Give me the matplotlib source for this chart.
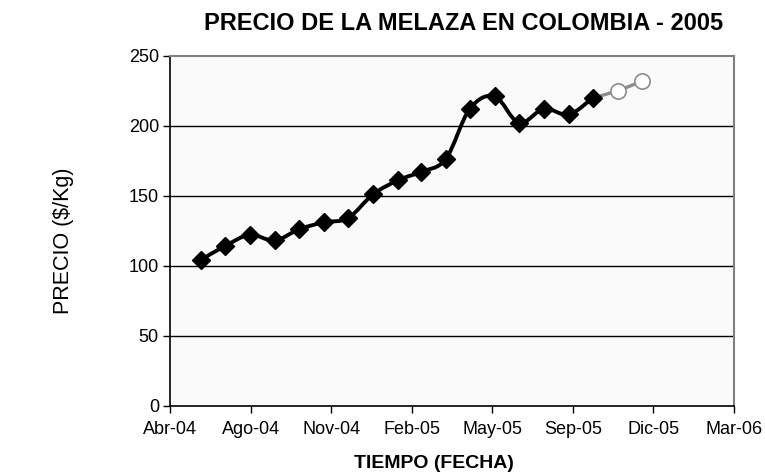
import datetime as dt

import matplotlib
matplotlib.use("Agg")
import matplotlib.dates as mdates
import matplotlib.pyplot as plt
from matplotlib.path import Path
from matplotlib.patches import PathPatch
import numpy as np

# monthly prices, Jun-2004 .. Oct-2005
months = ["2004-06", "2004-07", "2004-08", "2004-09", "2004-10", "2004-11",
          "2004-12", "2005-01", "2005-02", "2005-03", "2005-04", "2005-05",
          "2005-06", "2005-07", "2005-08", "2005-09", "2005-10"]
price = [104, 114, 122, 118, 126, 131, 134, 151, 161, 167, 176, 212,
         221, 202, 212, 208, 220]

# projected values (open circles)
proj_months = ["2005-10", "2005-11", "2005-12"]
proj_price = [220, 225, 232]

# axis tick dates (100 day step) and their labels
tick_dates = ["2004-04-24", "2004-08-02", "2004-11-10", "2005-02-18",
              "2005-05-29", "2005-09-06", "2005-12-15", "2006-03-25"]
tick_labels = ["Abr-04", "Ago-04", "Nov-04", "Feb-05", "May-05", "Sep-05",
               "Dic-05", "Mar-06"]
y_ticks = [0, 50, 100, 150, 200, 250]


def to_num(strings):
    out = []
    for s in strings:
        parts = [int(p) for p in s.split("-")]
        if len(parts) == 2:
            parts.append(1)
        out.append(mdates.date2num(dt.date(*parts)))
    return np.array(out)


def smooth_path(x, y, tension=1.0 / 6.0):
    """catmull-rom style bezier through the points, like excel's smoothed line"""
    verts = [(x[0], y[0])]
    codes = [Path.MOVETO]
    n = len(x)
    for i in range(n - 1):
        x0, y0 = (x[i - 1], y[i - 1]) if i > 0 else (x[i], y[i])
        x3, y3 = (x[i + 2], y[i + 2]) if i + 2 < n else (x[i + 1], y[i + 1])
        c1 = (x[i] + (x[i + 1] - x0) * tension, y[i] + (y[i + 1] - y0) * tension)
        c2 = (x[i + 1] - (x3 - x[i]) * tension, y[i + 1] - (y3 - y[i]) * tension)
        verts += [c1, c2, (x[i + 1], y[i + 1])]
        codes += [Path.CURVE4] * 3
    return Path(verts, codes)


plt.rcParams["font.family"] = ["Liberation Sans", "DejaVu Sans"]

xs = to_num(months)
pxs = to_num(proj_months)
ticks = to_num(tick_dates)

fig = plt.figure(figsize=(7.65, 4.72), dpi=100)
ax = fig.add_axes([170 / 765, 1 - 405.7 / 472, (734 - 170) / 765, (405.7 - 55.7) / 472])
ax.set_facecolor("#fafafa")

# projected part: grey line, open circles
ax.add_patch(PathPatch(smooth_path(pxs, proj_price), fill=False,
                       edgecolor="#8c8c8c", lw=2.4, zorder=3))
ax.plot(pxs[1:], proj_price[1:], ls="none", marker="o", ms=11,
        mfc="white", mec="#8c8c8c", mew=1.2, zorder=4)

# measured prices
ax.add_patch(PathPatch(smooth_path(xs, price), fill=False,
                       edgecolor="black", lw=2.8, zorder=5))
ax.plot(xs, price, ls="none", marker="D", ms=9.5, color="black", zorder=6)

ax.set_xlim(ticks[0], ticks[-1])
ax.set_ylim(0, 250)
ax.set_xticks(ticks)
ax.set_xticklabels(tick_labels)
ax.set_yticks(y_ticks)
ax.tick_params(axis="both", direction="out", length=5, width=1,
               labelsize=13, color="black")
ax.tick_params(axis="x", pad=6)
ax.tick_params(axis="y", pad=3)

for y in y_ticks[1:-1]:
    ax.axhline(y, color="black", lw=1.0, zorder=1)

ax.spines["left"].set_color("black")
ax.spines["bottom"].set_color("black")
ax.spines["left"].set_linewidth(1.2)
ax.spines["bottom"].set_linewidth(1.2)
ax.spines["top"].set_color("#808080")
ax.spines["right"].set_color("#808080")
ax.spines["top"].set_linewidth(1.5)
ax.spines["right"].set_linewidth(1.5)

fig.text(464 / 765, 1 - 24 / 472, "PRECIO DE LA MELAZA EN COLOMBIA - 2005",
         ha="center", va="center", fontsize=17, fontweight="bold")
fig.text(434 / 765, 1 - 463 / 472, "TIEMPO (FECHA)", ha="center", va="center",
         fontsize=14, fontweight="bold")
fig.text(64 / 765, 1 - 241 / 472, "PRECIO ($/Kg)", ha="center", va="center",
         rotation=90, fontsize=15.5)

fig.savefig("out.png", dpi=100)
